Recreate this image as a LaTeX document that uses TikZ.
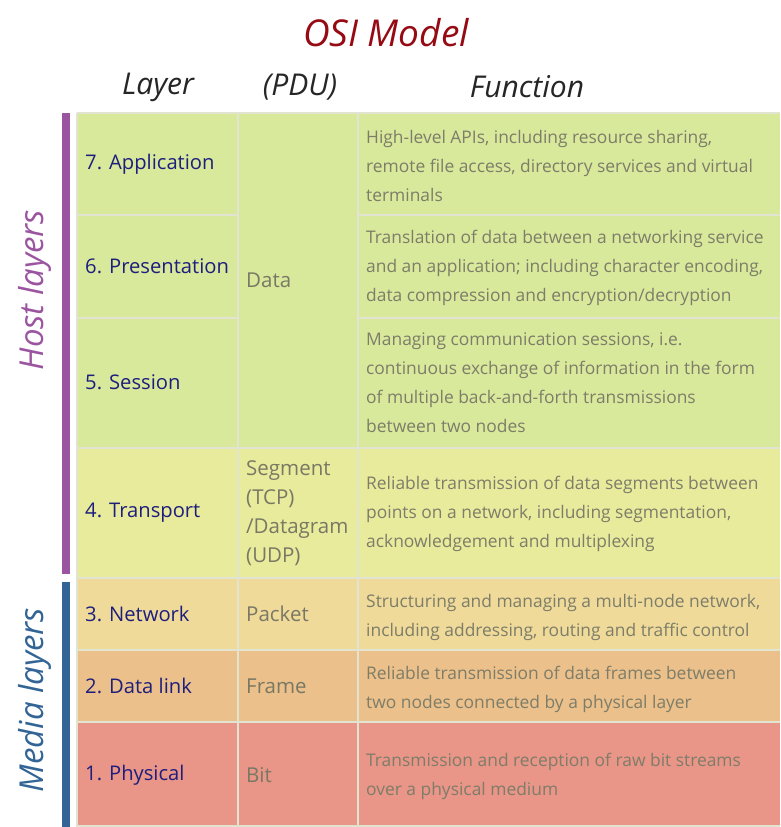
\documentclass[tikz,border=0pt]{standalone}
\usepackage{fontspec}
\setmainfont{Open Sans}
\begin{document}
\begin{tikzpicture}[x=1pt,y=-1pt,
  lay/.style={anchor=west,text=layblue,font=\fontsize{20.2}{24}\selectfont,inner sep=0},
  pdu/.style={anchor=west,text=pdugray,font=\fontsize{20.5}{29}\selectfont,align=left,inner sep=0},
  fun/.style={anchor=west,text=fungray,font=\fontsize{17.4}{29}\selectfont,align=left,inner sep=0},
  hdr/.style={font=\fontsize{30}{34}\itshape\selectfont,text=black!85},
  grid/.style={draw=gridc,line width=1.2pt}]
\definecolor{cgreen}{RGB}{216,233,156}
\definecolor{cyel}{RGB}{232,235,156}
\definecolor{cnet}{RGB}{239,218,154}
\definecolor{cdl}{RGB}{236,192,138}
\definecolor{cph}{RGB}{233,149,136}
\definecolor{gridc}{RGB}{226,228,210}
\definecolor{layblue}{RGB}{30,30,125}
\definecolor{pdugray}{RGB}{120,120,100}
\definecolor{fungray}{RGB}{125,125,105}
\definecolor{titred}{RGB}{150,10,20}
\definecolor{hostc}{RGB}{155,85,160}
\definecolor{mediac}{RGB}{50,100,150}
\useasboundingbox (0,0) rectangle (780,827);
\fill[white] (0,0) rectangle (780,827);
\node[font=\fontsize{37}{40}\itshape\selectfont,text=titred] (title) at (386,33) {OSI Model};
\node[hdr] (h1) at (158,87) {Layer};
\node[hdr] (h2) at (300,87) {(PDU)};
\node[hdr] (h3) at (527,87) {Function};
% fills
\fill[cgreen] (77,113) rectangle (780,448);
\fill[cyel] (77,448) rectangle (780,578);
\fill[cnet] (77,578) rectangle (780,650);
\fill[cdl] (77,650) rectangle (780,722);
\fill[cph] (77,722) rectangle (780,827);
% grid
\draw[grid] (77,113) -- (780,113);
\draw[grid] (77,215) -- (238,215) (358,215) -- (780,215);
\draw[grid] (77,318) -- (238,318) (358,318) -- (780,318);
\foreach \y in {448,578,650,722,826} \draw[grid] (77,\y) -- (780,\y);
\foreach \x in {238,358} \draw[grid] (\x,113) -- (\x,827);
\draw[grid] (77,113) -- (77,827);
% bars
\fill[hostc] (62,113) rectangle (70,574);
\fill[mediac] (62,582) rectangle (70,827);
\node[rotate=90,font=\fontsize{33}{36}\itshape\selectfont,text=hostc] (host) at (35,290) {Host layers};
\node[rotate=90,font=\fontsize{33}{36}\itshape\selectfont,text=mediac] (media) at (35,700) {Media layers};
% layers
\node[lay] (l7) at (85,164) {7. Application};
\node[lay] (l6) at (85,266) {6. Presentation};
\node[lay] (l5) at (85,382) {5. Session};
\node[lay] (l4) at (85,513) {4. Transport};
\node[lay] (l3) at (85,614) {3. Network};
\node[lay] (l2) at (85,686) {2. Data link};
\node[lay] (l1) at (85,775) {1. Physical};
% pdu
\node[pdu] (p5) at (246,280) {Data};
\node[pdu] (p4) at (246,513) {Segment\\(TCP)\\/Datagram\\(UDP)};
\node[pdu] (p3) at (246,614) {Packet};
\node[pdu] (p2) at (246,686) {Frame};
\node[pdu] (p1) at (246,775) {Bit};
% functions
\node[fun] (f7) at (366,166) {High-level APIs, including resource sharing,\\remote file access, directory services and virtual\\terminals};
\node[fun] (f6) at (366,268) {Translation of data between a networking service\\and an application; including character encoding,\\data compression and encryption/decryption};
\node[fun] (f5) at (366,383) {Managing communication sessions, i.e.\\continuous exchange of information in the form\\of multiple back-and-forth transmissions\\between two nodes};
\node[fun] (f4) at (366,514) {Reliable transmission of data segments between\\points on a network, including segmentation,\\acknowledgement and multiplexing};
\node[fun] (f3) at (366,617) {Structuring and managing a multi-node network,\\including addressing, routing and traffic control};
\node[fun] (f2) at (366,689) {Reliable transmission of data frames between\\two nodes connected by a physical layer};
\node[fun] (f1) at (366,776) {Transmission and reception of raw bit streams\\over a physical medium};
\end{tikzpicture}
\end{document}
